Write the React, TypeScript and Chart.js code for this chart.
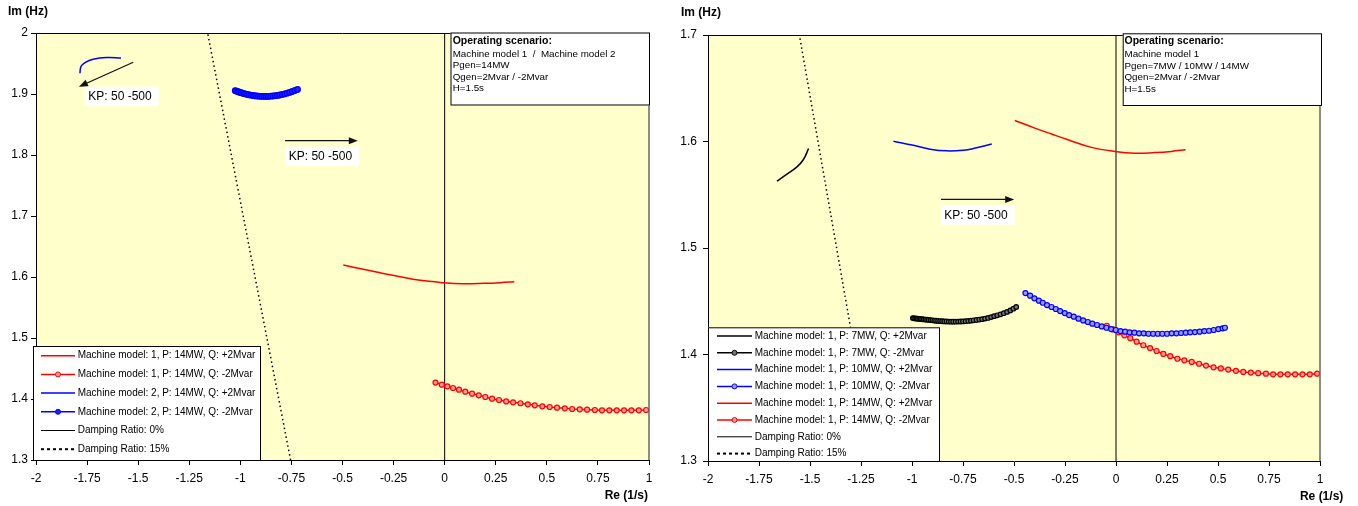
import React, { useEffect, useRef } from 'react';
import { Chart, registerables } from 'chart.js';

Chart.register(...registerables);

const FONT = "'Liberation Sans', Arial, Helvetica, sans-serif";

// ---------- axes ----------
const X_TICKS = [-2, -1.75, -1.5, -1.25, -1, -0.75, -0.5, -0.25, 0, 0.25, 0.5, 0.75, 1];
const X_TICK_LABELS = ['-2', '-1.75', '-1.5', '-1.25', '-1', '-0.75', '-0.5', '-0.25', '0', '0.25', '0.5', '0.75', '1'];
const Y_TICKS_LEFT = [1.3, 1.4, 1.5, 1.6, 1.7, 1.8, 1.9, 2];
const Y_TICK_LABELS_LEFT = ['1.3', '1.4', '1.5', '1.6', '1.7', '1.8', '1.9', '2'];
const Y_TICKS_RIGHT = [1.3, 1.4, 1.5, 1.6, 1.7];
const Y_TICK_LABELS_RIGHT = ['1.3', '1.4', '1.5', '1.6', '1.7'];

// ---------- series (Re in 1/s, Im in Hz) ----------
// Machine model 1, P 14MW, Q +2Mvar
const M1_P14_QPOS_RE = [-0.496, -0.398, -0.316, -0.235, -0.120, -0.006, 0.092, 0.190, 0.271, 0.341];
const M1_P14_QPOS_IM = [1.6197, 1.6126, 1.607, 1.6016, 1.5945, 1.5907, 1.589, 1.5896, 1.5907, 1.5923];
// Machine model 1, P 14MW, Q -2Mvar
const M1_P14_QNEG_RE = [-0.045, -0.014, 0.013, 0.041, 0.070, 0.101, 0.134, 0.167, 0.199, 0.232, 0.266, 0.301, 0.335, 0.371, 0.407, 0.441, 0.478, 0.514, 0.550, 0.588, 0.624, 0.661, 0.697, 0.735, 0.770, 0.806, 0.842, 0.878, 0.914, 0.950, 0.986];
const M1_P14_QNEG_IM = [1.427, 1.4235, 1.4208, 1.418, 1.4153, 1.412, 1.4087, 1.406, 1.4033, 1.4005, 1.3984, 1.396, 1.3945, 1.393, 1.3913, 1.3896, 1.388, 1.3869, 1.3858, 1.3847, 1.3836, 1.383, 1.3825, 1.382, 1.3814, 1.3814, 1.3814, 1.3814, 1.3814, 1.3814, 1.382];
// Machine model 2, P 14MW, Q +2Mvar
const M2_P14_QPOS_RE = [-1.785, -1.780, -1.760, -1.720, -1.654, -1.584];
const M2_P14_QPOS_IM = [1.934, 1.945, 1.9515, 1.957, 1.9597, 1.959];
// Machine model 2, P 14MW, Q -2Mvar
const M2_P14_QNEG_RE = [-1.025, -1.018, -1.011, -1.004, -0.997, -0.989, -0.981, -0.973, -0.965, -0.957, -0.948, -0.939, -0.930, -0.921, -0.912, -0.902, -0.892, -0.882, -0.872, -0.862, -0.851, -0.840, -0.829, -0.818, -0.807, -0.795, -0.783, -0.771, -0.759, -0.746, -0.733, -0.720];
const M2_P14_QNEG_IM = [1.9055, 1.9046, 1.9037, 1.9029, 1.9022, 1.9013, 1.9006, 1.8999, 1.8993, 1.8987, 1.8981, 1.8976, 1.8971, 1.8968, 1.8965, 1.8962, 1.8961, 1.896, 1.896, 1.8961, 1.8964, 1.8967, 1.8972, 1.8977, 1.8984, 1.8993, 1.9002, 1.9013, 1.9026, 1.9041, 1.9057, 1.9075];
// Machine model 1, P 7MW, Q +2Mvar
const M1_P7_QPOS_RE = [-1.662, -1.613, -1.564, -1.532, -1.507];
const M1_P7_QPOS_IM = [1.5628, 1.5693, 1.5762, 1.5831, 1.5934];
// Machine model 1, P 7MW, Q -2Mvar
const M1_P7_QNEG_RE = [-0.996, -0.990, -0.984, -0.978, -0.971, -0.964, -0.957, -0.950, -0.942, -0.934, -0.926, -0.918, -0.909, -0.900, -0.891, -0.882, -0.872, -0.862, -0.852, -0.842, -0.831, -0.820, -0.809, -0.798, -0.786, -0.774, -0.762, -0.750, -0.737, -0.724, -0.711, -0.698, -0.684, -0.670, -0.656, -0.642, -0.627, -0.612, -0.597, -0.582, -0.566, -0.550, -0.534, -0.518, -0.503, -0.489];
const M1_P7_QNEG_IM = [1.4342, 1.434, 1.4339, 1.4337, 1.4336, 1.4334, 1.4333, 1.4331, 1.433, 1.4328, 1.4327, 1.4325, 1.4323, 1.4321, 1.4319, 1.4317, 1.4315, 1.4314, 1.4312, 1.4311, 1.431, 1.4309, 1.4308, 1.4308, 1.4308, 1.4309, 1.431, 1.4311, 1.4313, 1.4315, 1.4318, 1.4321, 1.4324, 1.4328, 1.4332, 1.4337, 1.4343, 1.4351, 1.436, 1.4368, 1.4377, 1.4388, 1.44, 1.4414, 1.443, 1.4446];
// Machine model 1, P 10MW, Q +2Mvar
const M1_P10_QPOS_RE = [-1.091, -0.993, -0.911, -0.829, -0.748, -0.699, -0.609];
const M1_P10_QPOS_IM = [1.6003, 1.5965, 1.5928, 1.5912, 1.5918, 1.5934, 1.5977];
// Machine model 1, P 10MW, Q -2Mvar
const M1_P10_QNEG_RE = [-0.444, -0.421, -0.400, -0.378, -0.359, -0.338, -0.316, -0.295, -0.274, -0.251, -0.230, -0.207, -0.184, -0.161, -0.138, -0.116, -0.093, -0.070, -0.047, -0.024, -0.001, 0.022, 0.045, 0.067, 0.090, 0.113, 0.136, 0.159, 0.182, 0.205, 0.227, 0.250, 0.273, 0.296, 0.319, 0.342, 0.364, 0.387, 0.410, 0.433, 0.456, 0.479, 0.502, 0.523, 0.534];
const M1_P10_QNEG_IM = [1.4577, 1.4552, 1.4527, 1.4505, 1.4486, 1.4464, 1.4446, 1.4427, 1.4408, 1.4389, 1.437, 1.4355, 1.4336, 1.432, 1.4305, 1.4289, 1.4277, 1.4264, 1.4251, 1.4239, 1.423, 1.422, 1.4214, 1.4208, 1.4205, 1.4199, 1.4199, 1.4195, 1.4195, 1.4195, 1.4195, 1.4195, 1.4199, 1.4199, 1.4202, 1.4205, 1.4208, 1.4211, 1.4214, 1.422, 1.4223, 1.423, 1.4239, 1.4246, 1.4251];
// Damping ratio lines
const ZETA0_LEFT_RE = [0, 0];
const ZETA0_LEFT_IM = [1.3, 2];
const ZETA15_LEFT_RE = [-0.754, -1.16];
const ZETA15_LEFT_IM = [1.3, 2];
const ZETA0_RIGHT_RE = [0, 0];
const ZETA0_RIGHT_IM = [1.3, 1.7];
const ZETA15_RIGHT_RE = [-1.187, -1.552];
const ZETA15_RIGHT_IM = [1.3, 1.7];

const SCENARIO_LEFT = ['Operating scenario:', 'Machine model 1  /  Machine model 2', 'Pgen=14MW', 'Qgen=2Mvar / -2Mvar', 'H=1.5s'];
const SCENARIO_RIGHT = ['Operating scenario:', 'Machine model 1', 'Pgen=7MW / 10MW / 14MW', 'Qgen=2Mvar / -2Mvar', 'H=1.5s'];
const KP_TEXT = 'KP: 50 -500';

const RED = '#FF0000';
const BLUE = '#0000FF';
const BLACK = '#000000';

function pts(re: number[], im: number[]) {
  return re.map((x, i) => ({ x, y: im[i] }));
}

type Style = { color: string; markers?: boolean; fill?: string; dash?: number[]; width?: number; radius?: number; pborder?: number; legendDash?: number[]; legendWidth?: number; smooth?: boolean };

function ds(label: string, re: number[], im: number[], s: Style): any {
  const m = !!s.markers;
  return {
    label,
    data: pts(re, im),
    showLine: true,
    borderColor: s.color,
    backgroundColor: s.fill ?? s.color,
    borderWidth: s.width ?? 1.5,
    borderDash: s.dash ?? [],
    pointRadius: m ? (s.radius ?? 2.2) : 0,
    pointHoverRadius: 0,
    pointHitRadius: 0,
    pointBorderWidth: s.pborder ?? 1,
    pointBorderColor: s.color,
    pointBackgroundColor: s.fill ?? s.color,
    tension: s.smooth ? 0.4 : 0,
    legendDash: s.legendDash ?? s.dash ?? [],
    legendWidth: s.legendWidth ?? s.width ?? 1.5,
    hasMarker: m,
  };
}

type Decor = {
  plot: { left: number; top: number; right: number; bottom: number };
  scenario: string[];
  scen: { left: number; top: number; right: number; bottom: number; textX: number; titleY: number; row0: number; gap: number };
  arrows: { x0: number; y0: number; x1: number; y1: number }[];
  labels: { x: number; y: number }[];
  legend: { left: number; top: number; right: number; bottom: number; row0: number; gap: number; lineX0: number; lineX1: number; textX: number };
  yTitle: { x: number; y: number };
  xTitle: { right: number; y: number };
};

function makeDecor(d: Decor) {
  return {
    id: 'decor',
    beforeDraw(chart: any) {
      const { ctx, chartArea: a } = chart;
      ctx.save();
      ctx.fillStyle = '#FFFFCC';
      ctx.fillRect(a.left, a.top, a.right - a.left, a.bottom - a.top);
      ctx.restore();
    },
    afterDatasetsDraw(chart: any) {
      const { ctx, chartArea: a } = chart;
      ctx.save();
      ctx.strokeStyle = '#000';
      ctx.lineWidth = 1;
      ctx.beginPath();
      ctx.moveTo(a.left, Math.round(a.top) + 0.5);
      ctx.lineTo(a.right, Math.round(a.top) + 0.5);
      ctx.stroke();
      ctx.strokeStyle = '#666';
      ctx.lineWidth = 1.5;
      ctx.beginPath();
      ctx.moveTo(a.right, a.top);
      ctx.lineTo(a.right, a.bottom);
      ctx.stroke();
      ctx.restore();
    },
    afterDraw(chart: any) {
      const { ctx } = chart;
      const xs = chart.scales.x;
      const ys = chart.scales.y;
      ctx.save();
      // arrows
      d.arrows.forEach((ar) => {
        const x0 = xs.getPixelForValue(ar.x0), y0 = ys.getPixelForValue(ar.y0);
        const x1 = xs.getPixelForValue(ar.x1), y1 = ys.getPixelForValue(ar.y1);
        const ang = Math.atan2(y1 - y0, x1 - x0);
        const hl = 9, hw = 3.5;
        ctx.strokeStyle = '#111';
        ctx.fillStyle = '#111';
        ctx.lineWidth = 1.3;
        ctx.beginPath();
        ctx.moveTo(x0, y0);
        ctx.lineTo(x1 - Math.cos(ang) * hl * 0.8, y1 - Math.sin(ang) * hl * 0.8);
        ctx.stroke();
        ctx.beginPath();
        ctx.moveTo(x1, y1);
        ctx.lineTo(x1 - Math.cos(ang) * hl - Math.sin(ang) * hw, y1 - Math.sin(ang) * hl + Math.cos(ang) * hw);
        ctx.lineTo(x1 - Math.cos(ang) * hl + Math.sin(ang) * hw, y1 - Math.sin(ang) * hl - Math.cos(ang) * hw);
        ctx.closePath();
        ctx.fill();
      });
      // KP labels
      ctx.font = `12px ${FONT}`;
      ctx.textBaseline = 'middle';
      d.labels.forEach((lb) => {
        const x = xs.getPixelForValue(lb.x), y = ys.getPixelForValue(lb.y);
        const w = ctx.measureText(KP_TEXT).width;
        ctx.fillStyle = '#fff';
        ctx.fillRect(x - 3.5, y - 9.7, w + 10.5, 19.4);
        ctx.fillStyle = '#000';
        ctx.fillText(KP_TEXT, x, y + 0.5);
      });
      // scenario box
      const s = d.scen;
      ctx.fillStyle = '#fff';
      ctx.fillRect(s.left, s.top, s.right - s.left, s.bottom - s.top);
      ctx.strokeStyle = '#000';
      ctx.lineWidth = 1;
      ctx.strokeRect(s.left + 0.5, s.top + 0.5, s.right - s.left - 1, s.bottom - s.top - 1);
      ctx.fillStyle = '#000';
      ctx.font = `bold 10.5px ${FONT}`;
      ctx.fillText(d.scenario[0], s.textX, s.titleY);
      ctx.font = `9.8px ${FONT}`;
      for (let i = 1; i < d.scenario.length; i++) {
        ctx.fillText(d.scenario[i], s.textX, s.row0 + (i - 1) * s.gap);
      }
      // legend
      const L = d.legend;
      ctx.fillStyle = '#fff';
      ctx.fillRect(L.left, L.top, L.right - L.left, L.bottom - L.top);
      ctx.strokeStyle = '#000';
      ctx.lineWidth = 1;
      ctx.strokeRect(L.left + 0.5, L.top + 0.5, L.right - L.left - 1, L.bottom - L.top - 1);
      chart.data.datasets.forEach((dset: any, i: number) => {
        const y = L.row0 + i * L.gap;
        ctx.strokeStyle = dset.borderColor;
        ctx.lineWidth = dset.legendWidth;
        ctx.setLineDash(dset.legendDash);
        ctx.beginPath();
        ctx.moveTo(L.lineX0, y);
        ctx.lineTo(L.lineX1, y);
        ctx.stroke();
        ctx.setLineDash([]);
        if (dset.hasMarker) {
          ctx.beginPath();
          ctx.arc((L.lineX0 + L.lineX1) / 2, y, 2.5, 0, Math.PI * 2);
          ctx.fillStyle = dset.pointBackgroundColor;
          ctx.fill();
          ctx.lineWidth = 1;
          ctx.stroke();
        }
        ctx.fillStyle = '#000';
        ctx.font = `10px ${FONT}`;
        ctx.textBaseline = 'middle';
        ctx.fillText(dset.label, L.textX, y);
      });
      // axis titles
      ctx.fillStyle = '#000';
      ctx.font = `bold 12px ${FONT}`;
      ctx.textBaseline = 'middle';
      ctx.textAlign = 'left';
      ctx.fillText('Im (Hz)', d.yTitle.x, d.yTitle.y);
      ctx.textAlign = 'right';
      ctx.fillText('Re (1/s)', d.xTitle.right, d.xTitle.y);
      ctx.restore();
    },
  };
}

function makeConfig(datasets: any[], yMin: number, yMax: number, yTicks: number[], yLabels: string[], d: Decor, canvasW: number, yPad: number): any {
  const p = d.plot;
  return {
    type: 'scatter',
    data: { datasets },
    plugins: [makeDecor(d)],
    options: {
      animation: false,
      responsive: false,
      devicePixelRatio: 1,
      events: [],
      layout: { padding: { left: 0, top: p.top, right: canvasW - p.right, bottom: 0 } },
      plugins: { legend: { display: false }, tooltip: { enabled: false } },
      scales: {
        x: {
          type: 'linear',
          min: -2,
          max: 1,
          afterBuildTicks: (sc: any) => { sc.ticks = X_TICKS.map((v) => ({ value: v })); },
          afterFit: (sc: any) => { sc.height = 506 - p.bottom; },
          ticks: { callback: (_v: any, i: number) => X_TICK_LABELS[i], font: { family: FONT, size: 12 }, color: '#000', padding: 6, maxRotation: 0, autoSkip: false },
          grid: { drawOnChartArea: false, drawTicks: true, tickLength: 5, color: '#000' },
          border: { display: true, color: '#000', width: 1 },
        },
        y: {
          type: 'linear',
          min: yMin,
          max: yMax,
          afterBuildTicks: (sc: any) => { sc.ticks = yTicks.map((v) => ({ value: v })); },
          afterFit: (sc: any) => { sc.width = p.left; },
          ticks: { callback: (_v: any, i: number) => yLabels[i], font: { family: FONT, size: 12 }, color: '#000', padding: yPad, autoSkip: false },
          grid: { drawOnChartArea: false, drawTicks: true, tickLength: 5, color: '#000' },
          border: { display: true, color: '#000', width: 1 },
        },
      },
    },
  };
}

const redMarker: Style = { color: RED, markers: true, fill: '#FF9C9C', width: 1.5, radius: 2.5, pborder: 1.2 };

function leftConfig() {
  const datasets = [
    ds('Machine model: 1, P: 14MW, Q: +2Mvar', M1_P14_QPOS_RE, M1_P14_QPOS_IM, { color: RED, width: 1.5, smooth: true }),
    ds('Machine model: 1, P: 14MW, Q: -2Mvar', M1_P14_QNEG_RE, M1_P14_QNEG_IM, redMarker),
    ds('Machine model: 2, P: 14MW, Q: +2Mvar', M2_P14_QPOS_RE, M2_P14_QPOS_IM, { color: BLUE, width: 1.5, smooth: true }),
    ds('Machine model: 2, P: 14MW, Q: -2Mvar', M2_P14_QNEG_RE, M2_P14_QNEG_IM, { color: BLUE, markers: true, fill: '#2020FF', width: 1.5, radius: 2.8, pborder: 1.2 }),
    ds('Damping Ratio: 0%', ZETA0_LEFT_RE, ZETA0_LEFT_IM, { color: BLACK, width: 1 }),
    ds('Damping Ratio: 15%', ZETA15_LEFT_RE, ZETA15_LEFT_IM, { color: BLACK, width: 1.5, dash: [1.5, 3], legendDash: [3, 3], legendWidth: 2 }),
  ];
  const d: Decor = {
    plot: { left: 36, top: 33, right: 649, bottom: 460 },
    scenario: SCENARIO_LEFT,
    scen: { left: 450.5, top: 32.5, right: 650, bottom: 105.5, textX: 452.7, titleY: 40.7, row0: 54, gap: 11.5 },
    arrows: [
      { x0: -1.524, y0: 1.952, x1: -1.79, y1: 1.912 },
      { x0: -0.781, y0: 1.8235, x1: -0.425, y1: 1.8235 },
    ],
    labels: [
      { x: -1.744, y: 1.896 },
      { x: -0.763, y: 1.798 },
    ],
    legend: { left: 33, top: 346, right: 261, bottom: 461, row0: 355.7, gap: 18.7, lineX0: 41, lineX1: 75, textX: 77.7 },
    yTitle: { x: 8, y: 12 },
    xTitle: { right: 648, y: 496 },
  };
  return makeConfig(datasets, 1.3, 2, Y_TICKS_LEFT, Y_TICK_LABELS_LEFT, d, 675, 3);
}

function rightConfig() {
  const datasets = [
    ds('Machine model: 1, P: 7MW, Q: +2Mvar', M1_P7_QPOS_RE, M1_P7_QPOS_IM, { color: BLACK, width: 1.5, smooth: true }),
    ds('Machine model: 1, P: 7MW, Q: -2Mvar', M1_P7_QNEG_RE, M1_P7_QNEG_IM, { color: BLACK, markers: true, fill: '#777777', width: 1.5, radius: 2.3, pborder: 1.2 }),
    ds('Machine model: 1, P: 10MW, Q: +2Mvar', M1_P10_QPOS_RE, M1_P10_QPOS_IM, { color: BLUE, width: 1.5, smooth: true }),
    ds('Machine model: 1, P: 10MW, Q: -2Mvar', M1_P10_QNEG_RE, M1_P10_QNEG_IM, { color: BLUE, markers: true, fill: '#9C9CFF', width: 1.5, radius: 2.5, pborder: 1.2 }),
    ds('Machine model: 1, P: 14MW, Q: +2Mvar', M1_P14_QPOS_RE, M1_P14_QPOS_IM, { color: RED, width: 1.5, smooth: true }),
    ds('Machine model: 1, P: 14MW, Q: -2Mvar', M1_P14_QNEG_RE, M1_P14_QNEG_IM, redMarker),
    ds('Damping Ratio: 0%', ZETA0_RIGHT_RE, ZETA0_RIGHT_IM, { color: BLACK, width: 1 }),
    ds('Damping Ratio: 15%', ZETA15_RIGHT_RE, ZETA15_RIGHT_IM, { color: BLACK, width: 1.5, dash: [1.5, 3], legendDash: [3, 3], legendWidth: 2 }),
  ];
  const d: Decor = {
    plot: { left: 33, top: 35, right: 645, bottom: 461 },
    scenario: SCENARIO_RIGHT,
    scen: { left: 447.7, top: 33.3, right: 647, bottom: 106, textX: 449.5, titleY: 40.7, row0: 54.3, gap: 11.5 },
    arrows: [{ x0: -0.858, y0: 1.5456, x1: -0.499, y1: 1.5456 }],
    labels: [{ x: -0.842, y: 1.5309 }],
    legend: { left: 33, top: 327.3, right: 265, bottom: 462, row0: 336, gap: 16.8, lineX0: 42, lineX1: 77, textX: 79.7 },
    yTitle: { x: 6, y: 12.7 },
    xTitle: { right: 668.3, y: 496.7 },
  };
  return makeConfig(datasets, 1.3, 1.7, Y_TICKS_RIGHT, Y_TICK_LABELS_RIGHT, d, 683, 6);
}

function ChartCanvas({ make, left, width }: { make: () => any; left: number; width: number }) {
  const ref = useRef<HTMLCanvasElement>(null);
  useEffect(() => {
    const chart = new Chart(ref.current as HTMLCanvasElement, make());
    return () => chart.destroy();
  }, []);
  return (
    <canvas
      ref={ref}
      width={width}
      height={506}
      style={{ position: 'absolute', left, top: 0, width, height: 506, display: 'block' }}
    />
  );
}

export default function App() {
  return (
    <div style={{ position: 'absolute', left: 0, top: 0, width: 1358, height: 506, background: '#fff', overflow: 'hidden' }}>
      <ChartCanvas make={leftConfig} left={0} width={675} />
      <ChartCanvas make={rightConfig} left={675} width={683} />
    </div>
  );
}
